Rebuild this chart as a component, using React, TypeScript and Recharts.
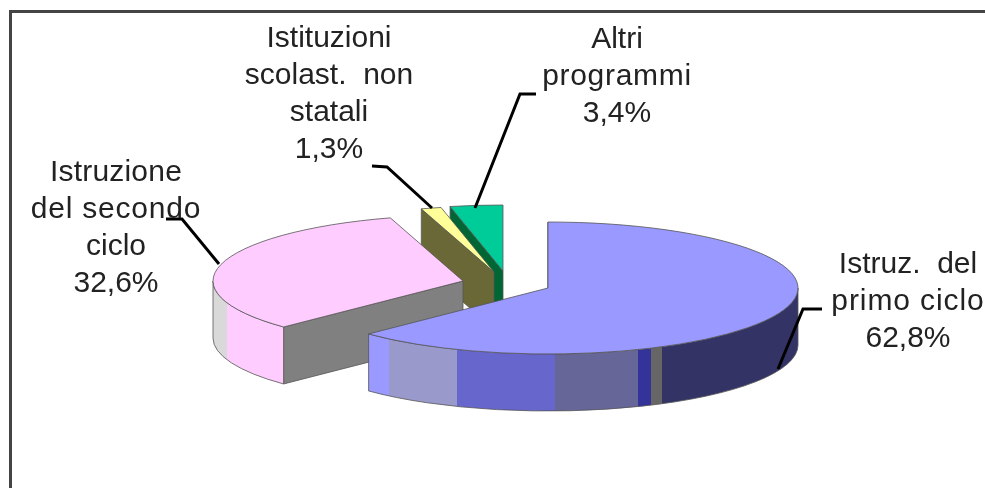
import React from "react";
import { PieChart, Pie } from "recharts";

// listed counter-clockwise from 12 o'clock so the back slices paint first
const sliceNames = ["Altri programmi", "Istituzioni scolast. non statali", "Istruzione del secondo ciclo", "Istruz. del primo ciclo"];
const sliceValues = [3.4, 1.3, 32.6, 62.8];
const labelLines = [
  ["Altri", "programmi"],
  ["Istituzioni", "scolast.  non", "statali"],
  ["Istruzione", "del secondo", "ciclo"],
  ["Istruz.  del", "primo ciclo"],
];

const topColors = ["#00cc99", "#ffff99", "#ffccff", "#9999ff"];
const faceColors = ["#006633", "#6b6838", "#808080", "#9999ff"];

// exploded offset of each slice
const offsets = [
  { dx: -45, dy: -17 },
  { dx: -54, dy: -16 },
  { dx: -85, dy: -7 },
  { dx: 0, dy: 0 },
];

// flat shaded bands on the rim, [x where the band ends, colour]
const rimBands: [number, string][][] = [
  [[1000, "#006633"]],
  [[1000, "#6b6838"]],
  [[227, "#d9d9d9"], [1000, "#ffccff"]],
  [
    [389, "#9999ff"],
    [457, "#9999cc"],
    [555, "#6666cc"],
    [638, "#666699"],
    [651, "#333399"],
    [662, "#666666"],
    [1000, "#333366"],
  ],
];

// hinted bitmap text in the original runs a bit wider on some lines
const labelLayout = [
  { x: 617, y: 48, spacing: [0, 0.7, 0], line: "536,94 520,94 475,208" },
  { x: 329, y: 47, spacing: [0, 0, 0, 0], line: "372,166 387,167 432,208" },
  { x: 116, y: 181, spacing: [0.2, 0.8, 0, 0], line: "166,219 182,219 219,264" },
  { x: 908, y: 273, spacing: [0, 0.9, 0], line: "822,309 803,309 778,369" },
];

const tableData = sliceNames.map((name, i) => ({ name, value: sliceValues[i] }));

const SQUASH = 66 / 250;
const DEPTH = 57;
const RAD = Math.PI / 180;
const EDGE = "#555";

const SliceShape = (props: any) => {
  const { name, cx, cy, outerRadius: rx, startAngle, endAngle } = props;
  const i = sliceNames.indexOf(name);
  const ry = rx * SQUASH;
  const x0 = cx + offsets[i].dx;
  const y0 = cy + offsets[i].dy;
  const pt = (a: number, drop = 0) => `${x0 + rx * Math.cos(a * RAD)} ${y0 - ry * Math.sin(a * RAD) + drop}`;

  const large = endAngle - startAngle > 180 ? 1 : 0;
  const top = `M${x0} ${y0}L${pt(startAngle)}A${rx} ${ry} 0 ${large} 0 ${pt(endAngle)}Z`;
  const face = `M${x0} ${y0}L${pt(endAngle)}L${pt(endAngle, DEPTH)}L${x0} ${y0 + DEPTH}Z`;

  // rim is only seen on the front half of the ellipse
  const from = Math.max(startAngle, 180);
  const to = Math.min(endAngle, 360);
  const rim =
    to > from
      ? `M${pt(from)}A${rx} ${ry} 0 0 0 ${pt(to)}L${pt(to, DEPTH)}A${rx} ${ry} 0 0 1 ${pt(from, DEPTH)}Z`
      : null;

  const bands = rimBands[i];
  const gradId = `rim-${i}`;
  return (
    <g>
      <defs>
        <linearGradient id={gradId} gradientUnits="userSpaceOnUse" x1="0" x2="1000" y1="0" y2="0">
          {bands.map(([end, color], b) => {
            const start = b === 0 ? 0 : bands[b - 1][0];
            return (
              <React.Fragment key={b}>
                <stop offset={start / 1000} stopColor={color} />
                <stop offset={end / 1000} stopColor={color} />
              </React.Fragment>
            );
          })}
        </linearGradient>
      </defs>
      <path d={face} fill={faceColors[i]} stroke={EDGE} strokeWidth={0.8} />
      {rim && <path d={rim} fill={`url(#${gradId})`} stroke={EDGE} strokeWidth={0.8} />}
      <path d={top} fill={topColors[i]} stroke={EDGE} strokeWidth={0.8} />
    </g>
  );
};

const SliceLabel = (props: any) => {
  const i = sliceNames.indexOf(props.name);
  const pos = labelLayout[i];
  const pct = `${sliceValues[i].toFixed(1).replace(".", ",")}%`;
  const lines = [...labelLines[i], pct];
  return (
    <g>
      <polyline points={pos.line} fill="none" stroke="#000" strokeWidth={3} />
      <text
        textAnchor="middle"
        fontFamily="Liberation Sans, Arial, sans-serif"
        fontSize={30}
        fill="#222"
        style={{ whiteSpace: "pre" }}
      >
        {lines.map((t, n) => (
          <tspan key={n} x={pos.x} y={pos.y + n * 37} letterSpacing={pos.spacing[n]}>
            {t}
          </tspan>
        ))}
      </text>
    </g>
  );
};

const App = () => {
  return (
    <div style={{ position: "absolute", left: 0, top: 0, width: 985, height: 488, background: "#fff", overflow: "hidden", filter: "blur(0.4px)" }}>
      {/* chart frame, only left and top edges are inside the crop */}
      <div
        style={{
          position: "absolute",
          left: 9,
          top: 10,
          width: 980,
          height: 480,
          borderLeft: "3px solid #444",
          borderTop: "3px solid #444",
        }}
      />
      <PieChart width={985} height={488} margin={{ top: 0, right: 0, bottom: 0, left: 0 }} style={{ position: "absolute", left: 0, top: 0 }}>
        <Pie
          data={tableData}
          dataKey="value"
          nameKey="name"
          cx={548}
          cy={288}
          outerRadius={250}
          startAngle={90}
          endAngle={450}
          stroke="none"
          shape={SliceShape}
          label={SliceLabel}
          labelLine={false}
          isAnimationActive={false}
        />
      </PieChart>
    </div>
  );
};

export default App;
